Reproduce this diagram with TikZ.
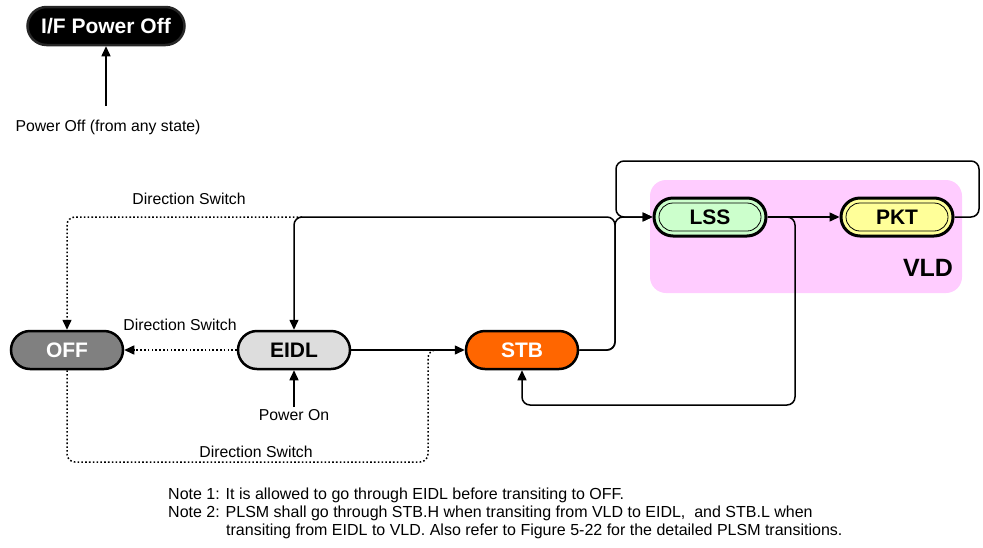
\documentclass[tikz,border=0pt]{standalone}
\usepackage{fontspec}
\setmainfont{Liberation Sans}
\usetikzlibrary{shapes.misc,arrows.meta}
\definecolor{offgray}{HTML}{808080}
\definecolor{eidlgray}{HTML}{DDDDDD}
\definecolor{stborange}{HTML}{FF6600}
\definecolor{lssgreen}{HTML}{CCFFCC}
\definecolor{pktyellow}{HTML}{FFFF99}
\definecolor{vldpink}{HTML}{FFCCFF}
\begin{document}
\begin{tikzpicture}[x=1pt,y=-1pt,
  st/.style={rounded rectangle, draw=black, line width=2.5pt, minimum width=112pt, minimum height=38pt, inner sep=0pt, font=\fontsize{21}{21}\selectfont\bfseries},
  inner/.style={rounded rectangle, draw=black, line width=0.8pt, minimum width=102pt, minimum height=28pt, inner sep=0pt},
  conn/.style={line width=1.5pt, rounded corners=8pt},
  arr/.style={-{Triangle[length=10pt,width=9pt]}},
  dots/.style={line width=1.5pt, dash pattern=on 1.6pt off 2.2pt, rounded corners=8pt},
  lbl/.style={font=\fontsize{15.8}{18}\selectfont},
  note/.style={font=\fontsize{16}{18}\selectfont, anchor=west, inner sep=0pt}]
\useasboundingbox (0,0) rectangle (983,547);

% VLD region
\fill[vldpink, rounded corners=16pt] (650,180) rectangle (962,293);
\node[font=\fontsize{25}{25}\selectfont\bfseries] (vld) at (928,268) {VLD};

% states
\node[st, fill=black, draw=black!85, text=white, minimum width=157pt] (ifoff) at (106,26) {I/F Power Off};
\node[st, fill=offgray, text=white] (off) at (67,350) {OFF};
\node[st, fill=eidlgray] (eidl) at (294,350) {EIDL};
\node[st, fill=stborange, text=white] (stb) at (522,350) {STB};
\node[st, fill=lssgreen, line width=3pt] (lss) at (710,217) {LSS};
\node[inner] (lssin) at (lss.center) {};
\node[st, fill=pktyellow, line width=3pt] (pkt) at (897,217) {PKT};
\node[inner] (pktin) at (pkt.center) {};

% labels
\node[lbl] (pofflbl) at (108,127) {Power Off (from any state)};
\node[lbl] (ponlbl) at (294,415) {Power On};
\node[lbl] (ds1) at (189,199) {Direction Switch};
\node[lbl] (ds2) at (180,325) {Direction Switch};
\node[lbl] (ds3) at (256,452) {Direction Switch};

% helper coordinates
\coordinate (poffsrc) at (106,106);
\coordinate (ponsrc) at (294,407);
\coordinate (dstop) at (302,217);
\coordinate (dsbot) at (445,350);

% power arrows
\draw[conn, arr] (poffsrc) -- (ifoff.south);
\draw[conn, arr] (ponsrc) -- (eidl.south);

% solid transitions
\draw[conn, arr] (eidl.east) -- (stb.west);
\draw[conn, arr] (stb.east) -- (615,350) -- (615,217) -- (lss.west);
\draw[conn, arr] (stb.east) -- (615,350) -- (615,217) -- (294,217) -- (eidl.north);
\draw[conn, arr] (lss.east) -- (pkt.west);
\draw[conn, arr] (pkt.east) -- (979,217) -- (979,161) -- (616,161) -- (616,217) -- (lss.west);
\draw[conn, arr] (lss.east) -- (795,217) -- (795,405) -- (522,405) -- (stb.south);

% dotted direction switches
\draw[dots, arr] (eidl.west) -- (off.east);
\draw[dots, arr] (dstop) -- (67,217) -- (off.north);
\draw[dots] (off.south) -- (67,462) -- (428,462) -- (428,350) -- (dsbot);

% notes
\node[note] (n1) at (168,495) {Note 1: It is allowed to go through EIDL before transiting to OFF.};
\node[note] (n2) at (168,513) {Note 2: PLSM shall go through STB.H when transiting from VLD to EIDL,\ \ and STB.L when};
\node[note] (n3) at (226,531) {transiting from EIDL to VLD. Also refer to Figure 5-22 for the detailed PLSM transitions.};
\end{tikzpicture}
\end{document}
